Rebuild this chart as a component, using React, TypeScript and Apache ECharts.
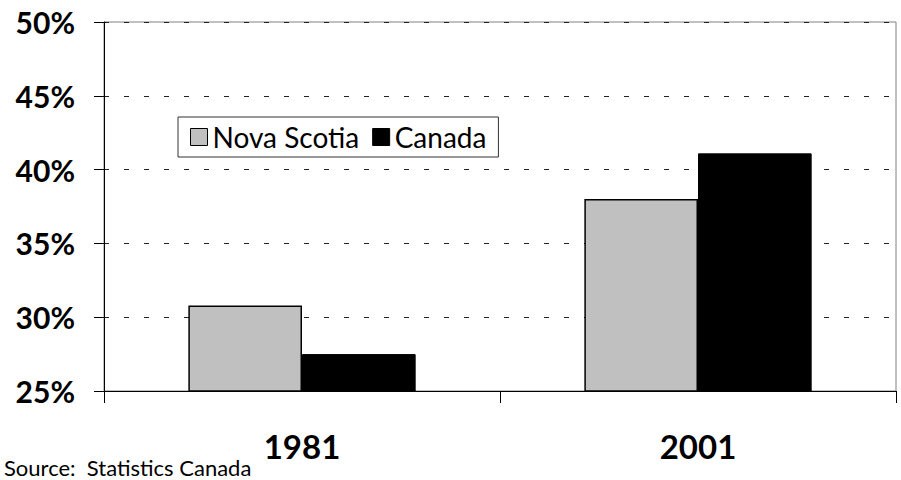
import React, { useEffect, useRef } from "react";
import * as echarts from "echarts";

// Share of population, two census years
const years = ["1981", "2001"];
const novaScotia = [30.8, 38.0];
const canada = [27.5, 41.1];
const seriesNames = ["Nova Scotia", "Canada"];
const yTicks = { min: 25, max: 50, step: 5 };
const sourceNote = "Source:  Statistics Canada";

const FONT = "Lato, 'Open Sans', sans-serif";

export default function App() {
  const ref = useRef<HTMLDivElement>(null);

  useEffect(() => {
    if (!ref.current) return;
    const chart = echarts.init(ref.current, undefined, { renderer: "svg" });
    chart.setOption({
      animation: false,
      backgroundColor: "#ffffff",
      textStyle: { fontFamily: FONT },
      grid: {
        left: 104,
        right: 5,
        top: 22,
        bottom: 89,
        show: true,
        borderColor: "#808080",
        borderWidth: 1,
        backgroundColor: "transparent",
      },
      legend: {
        left: 178,
        top: 117,
        orient: "horizontal",
        padding: [6, 12, 6, 12],
        itemGap: 13,
        itemWidth: 17,
        itemHeight: 17,
        icon: "rect",
        borderColor: "#333",
        borderWidth: 1,
        backgroundColor: "#ffffff",
        textStyle: { fontFamily: FONT, fontSize: 28, color: "#000" },
        data: [
          { name: seriesNames[0], itemStyle: { color: "#c0c0c0", borderColor: "#000", borderWidth: 1 } },
          { name: seriesNames[1], itemStyle: { color: "#000", borderColor: "#000", borderWidth: 1 } },
        ],
      },
      xAxis: {
        type: "category",
        data: years,
        axisLine: { show: true, lineStyle: { color: "#000", width: 1 } },
        axisTick: { show: true, length: 12, lineStyle: { color: "#000" } },
        axisLabel: {
          margin: 38,
          fontFamily: FONT,
          fontSize: 33,
          fontWeight: "bold",
          color: "#000",
        },
        splitLine: { show: false },
      },
      yAxis: {
        type: "value",
        min: yTicks.min,
        max: yTicks.max,
        interval: yTicks.step,
        axisLine: { show: true, lineStyle: { color: "#000", width: 1 } },
        axisTick: { show: true, inside: false, length: 10, lineStyle: { color: "#000" } },
        axisLabel: {
          margin: 29,
          fontFamily: FONT,
          fontSize: 30,
          fontWeight: "bold",
          color: "#000",
          formatter: (v: number) => `${v}%`,
        },
        splitLine: {
          show: true,
          lineStyle: { color: "#222", type: [5, 15], width: 1 },
        },
      },
      series: [
        {
          name: seriesNames[0],
          type: "bar",
          data: novaScotia,
          barWidth: "28.7%",
          barGap: "0%",
          itemStyle: { color: "#c0c0c0", borderColor: "#000", borderWidth: 1.5 },
        },
        {
          name: seriesNames[1],
          type: "bar",
          data: canada,
          barWidth: "28.7%",
          barGap: "0%",
          itemStyle: { color: "#000", borderColor: "#000", borderWidth: 1 },
        },
      ],
      graphic: [
        {
          type: "text",
          left: 4,
          top: 456,
          style: { text: sourceNote, fontFamily: FONT, fontSize: 22, fill: "#000" },
        },
      ],
    });
    return () => chart.dispose();
  }, []);

  return <div ref={ref} style={{ width: 901, height: 480, position: "absolute", left: 0, top: 0 }} />;
}
